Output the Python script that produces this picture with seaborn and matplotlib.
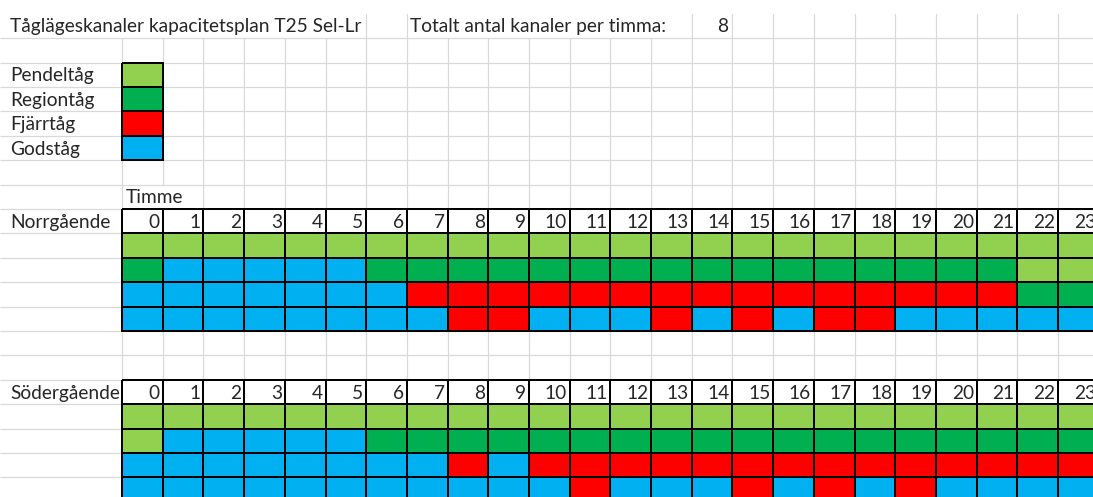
import numpy as np
import pandas as pd
import seaborn as sns
import matplotlib.pyplot as plt
from matplotlib.colors import ListedColormap

# sheet texts
title = 'Tåglägeskanaler kapacitetsplan T25 Sel-Lr'
total_label = 'Totalt antal kanaler per timma:'
total_value = 8
hours = list(range(24))

# train types: code letter, name, fill colour
codes = ['P', 'R', 'F', 'G']
categories = ['Pendeltåg', 'Regiontåg', 'Fjärrtåg', 'Godståg']
colors = ['#92D050', '#00B050', '#FF0000', '#00B0F0']

# one string per channel row, one letter per hour 0..23
norr = ['PPPPPPPPPPPPPPPPPPPPPPPP',
        'RGGGGGRRRRRRRRRRRRRRRRPP',
        'GGGGGGGFFFFFFFFFFFFFFFRR',
        'GGGGGGGGFFGGGFGFGFFGGGGG']
soder = ['PPPPPPPPPPPPPPPPPPPPPPPP',
         'PGGGGGRRRRRRRRRRRRRRRRRR',
         'GGGGGGGGFGFFFFFFFFFFFFFF',
         'GGGGGGGGGGGFGGGFGFGFGGGG']

sns.set_theme(style='white')
plt.rcParams['font.family'] = ['Lato', 'DejaVu Sans']
FS = 13.8

fig = plt.figure(figsize=(10.93, 4.97), dpi=100)
ax = fig.add_axes([0, 0, 1, 1])
# sheet coordinates: one unit = one column / one row, column B starts at x=0
X0, X1 = -3.0, 23.86
Y0, Y1 = 0.434, 20.80
ax.set_xlim(X0, X1)
ax.set_ylim(Y1, Y0)
ax.axis('off')

grid = '#d9d9d9'
# horizontal gridlines
ax.hlines(np.arange(2, 21), X0, X1, color=grid, lw=0.9, zorder=0)
# vertical gridlines, hidden where text spills over cells
hidden = {0: [1], 1: [1, 8], 2: [1], 3: [1], 4: [1], 5: [1],
          8: [1], 9: [1], 10: [1], 11: [1], 12: [1], 13: [1]}
for x in range(24):
    ys = [r for r in range(1, 21) if r not in hidden.get(x, [])]
    for r in ys:
        ax.plot([x, x], [r, r + 1], color=grid, lw=0.9, zorder=0)

def text_y(r):
    return r + 0.54

tx = -3 + 0.25
ax.text(tx, text_y(1), title, fontsize=FS, va='center', ha='left')
ax.text(7 + 0.08, text_y(1), total_label, fontsize=FS, va='center', ha='left')
ax.text(14 + 0.9, text_y(1), str(total_value), fontsize=FS, va='center', ha='right')
for i, name in enumerate(categories):
    ax.text(tx, text_y(3 + i), name, fontsize=FS, va='center', ha='left')
ax.text(0.1, text_y(8), 'Timme', fontsize=FS, va='center', ha='left')
ax.text(tx, text_y(9), 'Norrgående', fontsize=FS, va='center', ha='left')
ax.text(tx, text_y(16), 'Södergående', fontsize=FS, va='center', ha='left')

cmap = ListedColormap(colors + ['white'])


def place(x, y, w, h):
    left = (x - X0) / (X1 - X0)
    bottom = 1 - (y + h - Y0) / (Y1 - Y0)
    return fig.add_axes([left, bottom, w / (X1 - X0), h / (Y1 - Y0)])


def block(x, y, matrix, header=False):
    hax = place(x, y, matrix.shape[1], matrix.shape[0])
    sns.heatmap(matrix, ax=hax, cmap=cmap, vmin=-0.5, vmax=4.5, cbar=False,
                linewidths=1.3, linecolor='black',
                xticklabels=False, yticklabels=False)
    hax.collections[0].set_clip_on(False)
    hax.axis('off')
    if header:
        for h in hours:
            hax.text(h + 0.93, 0.54, str(h), fontsize=FS, va='center', ha='right')
    return hax


# legend swatches
legend = pd.DataFrame({'B': range(len(categories))}, index=categories)
block(0, 3, legend)

for start, rows in [(9, norr), (16, soder)]:
    data = [[4] * 24] + [[codes.index(c) for c in row] for row in rows]
    df = pd.DataFrame(data, columns=hours)
    block(0, start, df, header=True)

fig.savefig('out.png', dpi=100)
